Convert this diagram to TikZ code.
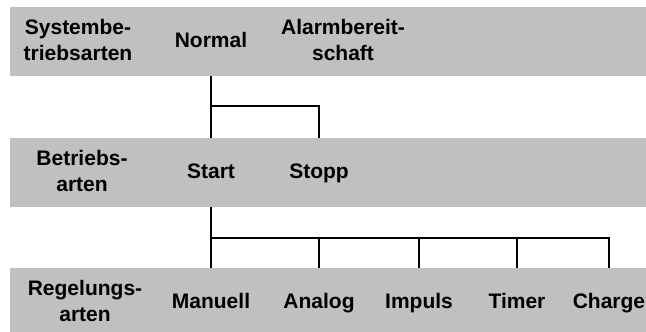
\documentclass[tikz,border=0pt]{standalone}
\usepackage{fontspec}
\setmainfont{Liberation Sans}
\begin{document}
\begin{tikzpicture}[x=1pt,y=-1pt,
  band/.style={fill=bandgray,draw=none},
  lbl/.style={font=\fontsize{21}{26}\selectfont\bfseries,align=center,inner sep=0pt,anchor=base},
  conn/.style={draw=black,line width=1.6pt}]
\definecolor{bandgray}{HTML}{C0C0C0}
\useasboundingbox (0,0) rectangle (646,332);
% bands
\path[band] (10,7) rectangle (646,76);
\path[band] (10,138) rectangle (646,207);
\path[band] (10,268) rectangle (646,332);
\coordinate (topS) at (0,76);
\coordinate (midN) at (0,138);
\coordinate (midS) at (0,207);
\coordinate (botN) at (0,268);
\coordinate (br1) at (0,106);
\coordinate (br2) at (0,238);
% top labels
\node[lbl] (sysba) at (78,60) {Systembe-\\triebsarten};
\node[lbl] (normal) at (211,47) {Normal};
\node[lbl] (alarm) at (343,60) {Alarmbereit-\\schaft};
% middle labels
\node[lbl] (betrieb) at (82,191) {Betriebs-\\arten};
\node[lbl] (start) at (211,178) {Start};
\node[lbl] (stopp) at (319,178) {Stopp};
% bottom labels
\node[lbl] (regel) at (85,321) {Regelungs-\\arten};
\node[lbl] (manuell) at (211,308) {Manuell};
\node[lbl] (analog) at (319,308) {Analog};
\node[lbl] (impuls) at (419,308) {Impuls};
\node[lbl] (timer) at (517,308) {Timer};
\node[lbl] (charge) at (609,308) {Charge};
% connectors
\draw[conn] (normal |- topS) -- (start |- midN);
\draw[conn] (normal |- br1) -| (stopp |- midN);
\draw[conn] (start |- midS) -- (manuell |- botN);
\draw[conn] (start |- br2) -| (charge |- botN);
\draw[conn] (analog |- br2) -- (analog |- botN);
\draw[conn] (impuls |- br2) -- (impuls |- botN);
\draw[conn] (timer |- br2) -- (timer |- botN);
\end{tikzpicture}
\end{document}
